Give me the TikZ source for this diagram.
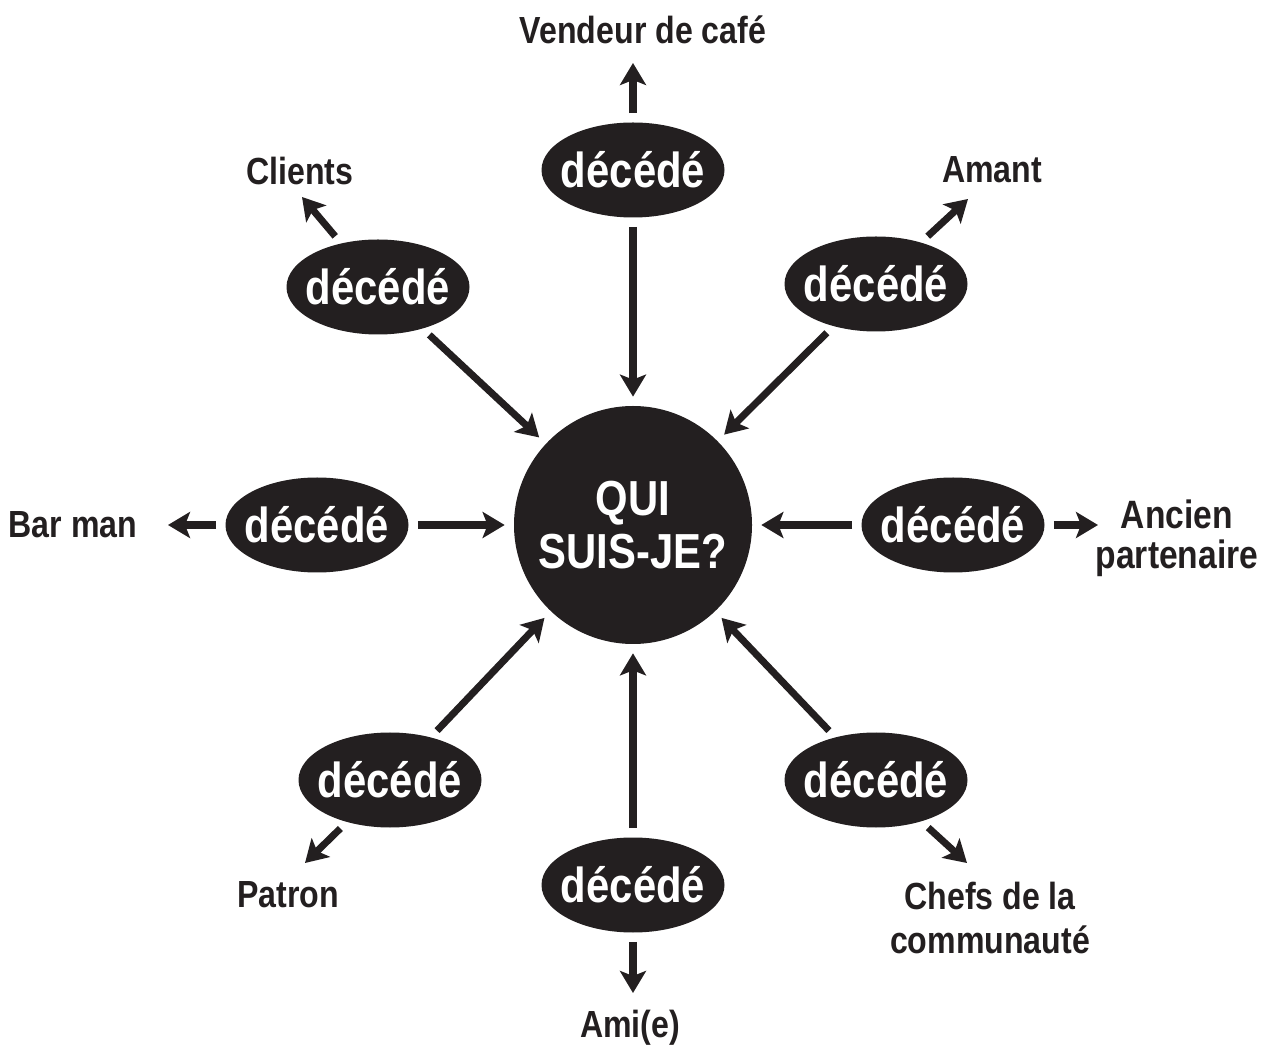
\documentclass[tikz,border=0pt]{standalone}
\usepackage{fontspec}
\setmainfont{Liberation Sans}[FakeStretch=0.85]
\usepackage{xcolor}
\usepackage{tikz}
\usetikzlibrary{shapes.geometric, arrows.meta}
\definecolor{ink}{HTML}{231F20}

\begin{document}
\begin{tikzpicture}[scale=1.0, font=\fontsize{21.5}{24}\selectfont\bfseries,
  dead/.style={ellipse, fill=ink, text=white, minimum width=3.66cm,
    minimum height=1.9cm, inner xsep=-0.16cm, inner ysep=0pt,
    font=\fontsize{28}{30}\selectfont\bfseries},
  who/.style={text=ink, align=center, inner sep=0pt},
  arr/.style={draw=ink, line width=4pt,
    -{Stealth[length=0.44cm, width=0.52cm, inset=0.1cm]}, shorten <=0.18cm},
  tocentre/.style={shorten >=0.18cm}]
  \useasboundingbox (0,0) rectangle (25.52,20.98);
  % centre
  \node[circle, fill=ink, text=white, minimum size=4.76cm, inner sep=0pt, align=center,
    font=\fontsize{28}{30}\selectfont\bfseries] (qui) at (12.66, 10.48) {QUI\\SUIS-JE?};
  % the eight ellipses
  \node[dead] (etop) at (12.66, 17.58) {décédé};
  \node[dead] (etl) at (7.56, 15.24) {décédé};
  \node[dead] (etr) at (17.52, 15.30) {décédé};
  \node[dead] (eleft) at (6.34, 10.48) {décédé};
  \node[dead] (eright) at (19.06, 10.48) {décédé};
  \node[dead] (ebl) at (7.80, 5.38) {décédé};
  \node[dead] (ebot) at (12.66, 3.28) {décédé};
  \node[dead] (ebr) at (17.52, 5.38) {décédé};
  % labels
  \node[who] (vendeur) at (12.86, 20.38) {Vendeur de café};
  \node[who] (clients) at (6.00, 17.56) {Clients};
  \node[who] (amant) at (19.84, 17.58) {Amant};
  \node[who] (barman) at (1.46, 10.48) {Bar man};
  \node[who, font=\fontsize{22.5}{22.7}\selectfont\bfseries] (ancien) at (23.54, 10.22) {Ancien\\partenaire};
  \node[who] (patron) at (5.76, 3.08) {Patron};
  \node[who] (ami) at (12.60, 0.42) {Ami(e)};
  \node[who, font=\fontsize{21.5}{25.5}\selectfont\bfseries] (chefs) at (19.80, 2.62) {Chefs de la\\communauté};
  % arrow tips near the labels
  \coordinate (vtip) at (12.66, 19.72);
  \coordinate (ctip) at (6.04, 17.04);
  \coordinate (atip) at (19.36, 17.00);
  \coordinate (btip) at (3.36, 10.48);
  \coordinate (ntip) at (21.96, 10.48);
  \coordinate (ptip) at (6.10, 3.72);
  \coordinate (mtip) at (12.66, 1.12);
  \coordinate (stip) at (19.34, 3.72);
  % into the centre
  \draw[arr, tocentre] (etop) -- (qui);
  \draw[arr, tocentre] (etl) -- (qui);
  \draw[arr, tocentre] (etr) -- (qui);
  \draw[arr, tocentre] (eleft) -- (qui);
  \draw[arr, tocentre] (eright) -- (qui);
  \draw[arr, tocentre] (ebl) -- (qui);
  \draw[arr, tocentre] (ebot) -- (qui);
  \draw[arr, tocentre] (ebr) -- (qui);
  % out to the labels
  \draw[arr] (etop) -- (vtip);
  \draw[arr] (etl) -- (ctip);
  \draw[arr] (etr) -- (atip);
  \draw[arr] (eleft) -- (btip);
  \draw[arr] (eright) -- (ntip);
  \draw[arr] (ebl) -- (ptip);
  \draw[arr] (ebot) -- (mtip);
  \draw[arr] (ebr) -- (stip);
\end{tikzpicture}
\end{document}
